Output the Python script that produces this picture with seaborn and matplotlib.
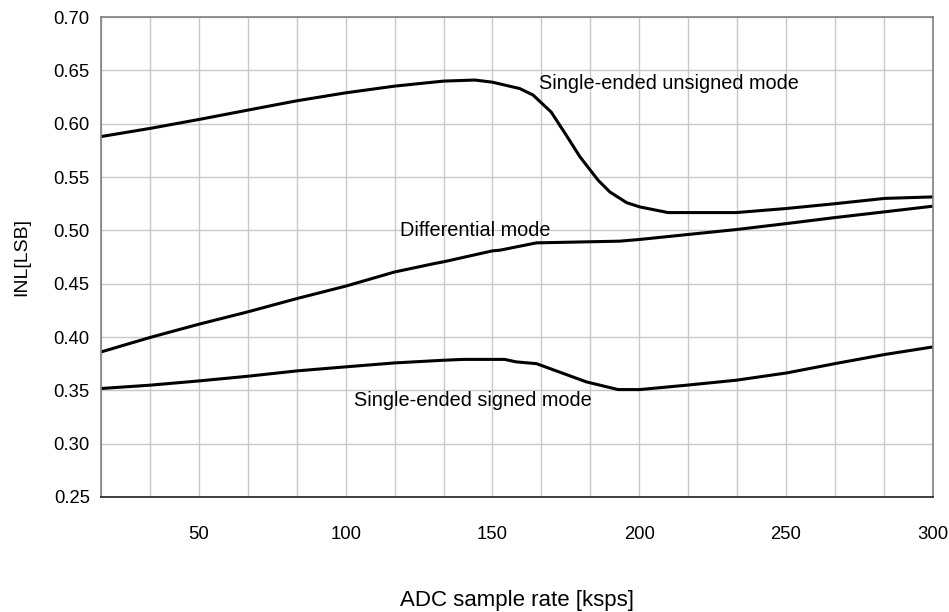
import numpy as np
import pandas as pd
import seaborn as sns
import matplotlib.pyplot as plt

# values
x_unsigned = [16.7, 33.3, 50, 66.7, 83.3, 100, 116.7, 133.3, 144, 150, 159.3, 163.8,
              170, 175.2, 179.8, 186, 190, 195.7, 200.2, 209.8, 233, 250, 266.6, 283.6, 300]
y_unsigned = [0.588, 0.5956, 0.604, 0.6128, 0.6215, 0.629, 0.6353, 0.640, 0.641, 0.639,
              0.633, 0.627, 0.611, 0.589, 0.569, 0.547, 0.536, 0.526, 0.522, 0.5167,
              0.5167, 0.5205, 0.525, 0.530, 0.5314]

x_diff = [16.7, 33.3, 50, 66.7, 83.3, 100, 116.7, 130.4, 133.3, 150, 152.5, 165,
          193.4, 200.2, 216.1, 233.1, 250.2, 266.6, 283.6, 300]
y_diff = [0.386, 0.3995, 0.412, 0.4236, 0.436, 0.4477, 0.461, 0.469, 0.4705, 0.4808,
          0.4814, 0.4883, 0.4899, 0.4915, 0.496, 0.5008, 0.5064, 0.512, 0.5174, 0.5227]

x_signed = [16.7, 33.3, 50, 66.7, 83.3, 100, 116.7, 133.3, 140, 154.2, 158, 165,
            182, 192.8, 200.2, 216.1, 233.1, 250.2, 266.6, 283.6, 300]
y_signed = [0.3517, 0.3548, 0.3588, 0.3632, 0.3682, 0.372, 0.3757, 0.3782, 0.379, 0.379,
            0.3767, 0.375, 0.3579, 0.3507, 0.3507, 0.3548, 0.3595, 0.3663, 0.375,
            0.3836, 0.3907]

labels = ["Single-ended unsigned mode", "Differential mode", "Single-ended signed mode"]
label_pos = [(166, 0.638), (118.5, 0.500), (103, 0.340)]

sns.set_style("whitegrid")
plt.rcParams['font.family'] = ['Liberation Sans', 'DejaVu Sans']
plt.rcParams['text.color'] = 'black'
plt.rcParams['axes.labelcolor'] = 'black'
plt.rcParams['xtick.color'] = 'black'
plt.rcParams['ytick.color'] = 'black'

fig = plt.figure(figsize=(9.49, 6.12), dpi=100)
ax = fig.add_axes([0.1064, 0.188, 0.8766, 0.784])

for xs, ys in [(x_unsigned, y_unsigned), (x_diff, y_diff), (x_signed, y_signed)]:
    sns.lineplot(x=xs, y=ys, ax=ax, color="black", linewidth=2.2, sort=False)

for txt, (tx, ty) in zip(labels, label_pos):
    ax.text(tx, ty, txt, fontsize=14.3, ha="left", va="center")

ax.set_xlim(300 / 18, 300)
ax.set_ylim(0.25, 0.70)
xt = np.arange(1, 19) * 300 / 18
ax.set_xticks(xt)
ax.set_xticklabels([("%d" % round(v)) if round(v) % 50 == 0 and abs(v - round(v)) < 0.01 else "" for v in xt])
yt = np.arange(0.25, 0.701, 0.05)
ax.set_yticks(yt)
ax.set_yticklabels(["%.2f" % v for v in yt])
ax.tick_params(axis="x", length=0, pad=21, labelsize=13.3)
ax.tick_params(axis="y", length=0, pad=8, labelsize=13.3)
ax.grid(True, color="#c8c8c8", linewidth=1.0)

for side in ["top", "right", "left"]:
    ax.spines[side].set_color("#808080")
    ax.spines[side].set_linewidth(1.2)
ax.spines["bottom"].set_color("#202020")
ax.spines["bottom"].set_linewidth(1.2)

ax.set_xlabel("ADC sample rate [ksps]", fontsize=16, labelpad=34)
ax.set_ylabel("INL[LSB]", fontsize=14, labelpad=17)

fig.savefig("out.png", dpi=100)
